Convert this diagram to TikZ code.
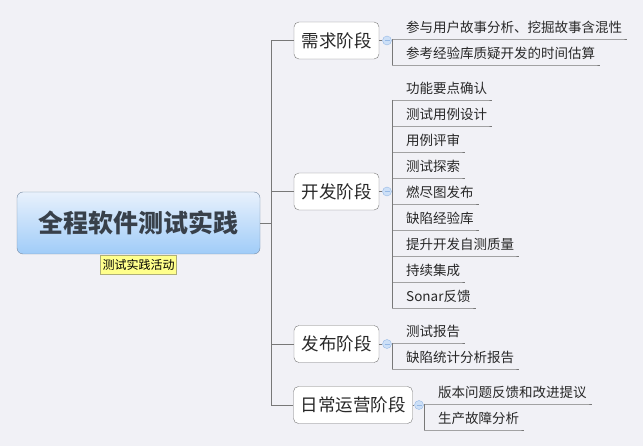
\documentclass[tikz,border=0pt]{standalone}
\usepackage{fontspec}
\setmainfont{Noto Sans CJK SC}
\usetikzlibrary{positioning}
\definecolor{bgcol}{RGB}{241,241,246}
\definecolor{linecol}{RGB}{120,120,120}
\definecolor{boxcol}{RGB}{120,120,120}
\definecolor{txtcol}{RGB}{40,40,40}
\definecolor{rootline}{RGB}{118,138,162}
\definecolor{roottop}{RGB}{232,241,252}
\definecolor{rootbot}{RGB}{160,204,248}
\definecolor{roottxt}{RGB}{56,64,74}
\definecolor{tagcol}{RGB}{255,255,140}
\definecolor{tagline}{RGB}{175,175,120}
\definecolor{foldcol}{RGB}{205,224,247}
\definecolor{foldline}{RGB}{150,185,230}

\begin{document}
\begin{tikzpicture}[x=1pt,y=-1pt,
  line/.style={draw=linecol, line width=0.8pt},
  root/.style={draw=rootline, rounded corners=6pt, top color=roottop, bottom color=rootbot,
    minimum width=243pt, minimum height=62pt, font=\fontsize{25}{28}\selectfont\bfseries, text=roottxt},
  tag/.style={draw=tagline, fill=tagcol, inner sep=2pt, minimum height=19pt, font=\fontsize{12}{13}\selectfont},
  topic/.style={draw=boxcol, fill=white, rounded corners=5pt, minimum height=37pt, minimum width=85pt,
    inner xsep=7pt, font=\fontsize{17.5}{20}\selectfont, text=txtcol},
  leaf/.style={inner sep=0pt, anchor=base west, font=\fontsize{13.5}{15}\selectfont, text=txtcol},
  fold/.style={circle, draw=foldline, fill=foldcol, minimum size=9pt, inner sep=0pt,
    path picture={\draw[foldline] ([xshift=2pt]path picture bounding box.west) -- ([xshift=-2pt]path picture bounding box.east);}}]
  \path[use as bounding box, fill=bgcol] (0,0) rectangle (643,446);

  % root
  \node[root] (root) at (138.5,223) {全程软件测试实践};
  \node[tag, below=1pt of root] (tag) {测试实践活动};

  % phases
  \node[topic] (xq) at (336.5,40.5) {需求阶段};
  \node[topic] (kf) at (336.5,191.5) {开发阶段};
  \node[topic] (fb) at (336.5,344) {发布阶段};
  \node[topic, minimum width=118pt] (yy) at (353,405) {日常运营阶段};

  \coordinate (hub) at (271,223);
  \draw[line] (root.east) -- (hub);
  \draw[line] (hub |- xq.west) -- (hub |- yy.west);
  \foreach \p in {xq,kf,fb,yy}
    \draw[line] (hub |- \p.west) -- (\p.west);

  % folds
  \foreach \p in {xq,kf,fb}{
    \node[fold] (\p f) at (387,0 |- \p.east) {};
    \draw[line] (\p.east) -- (\p f.west);
    \draw[line] (\p f.east) -- (392,0 |- \p.east);
  }
  \node[fold] (yyf) at (419,0 |- yy.east) {};
  \draw[line] (yy.east) -- (yyf.west);
  \draw[line] (yyf.east) -- (424,0 |- yy.east);

  % leaves
  \foreach \t [count=\i from 0] in {参与用户故事分析、挖掘故事含混性,参考经验库质疑开发的时间估算}{
    \pgfmathsetmacro\y{39+26*\i}
    \node[leaf] (xq\i) at (406,\y-6) {\t};
    \draw[line] (392,\y) -- (xq\i.east |- 392,\y) -- ++(5,0);
  }
  \draw[line] (392,39) -- (392,65);

  \foreach \t [count=\i from 0] in {功能要点确认,测试用例设计,用例评审,测试探索,燃尽图发布,缺陷经验库,提升开发自测质量,持续集成,Sonar反馈}{
    \pgfmathsetmacro\y{100+26*\i}
    \node[leaf] (kf\i) at (406,\y-6) {\t};
    \draw[line] (392,\y) -- (kf\i.east |- 392,\y) -- ++(5,0);
  }
  \draw[line] (392,100) -- (392,308);

  \foreach \t [count=\i from 0] in {测试报告,缺陷统计分析报告}{
    \pgfmathsetmacro\y{343+26*\i}
    \node[leaf] (fb\i) at (406,\y-6) {\t};
    \draw[line] (392,\y) -- (fb\i.east |- 392,\y) -- ++(5,0);
  }
  \draw[line] (392,343) -- (392,369);

  \foreach \t [count=\i from 0] in {版本问题反馈和改进提议,生产故障分析}{
    \pgfmathsetmacro\y{404+26*\i}
    \node[leaf] (yy\i) at (438,\y-6) {\t};
    \draw[line] (424,\y) -- (yy\i.east |- 424,\y) -- ++(5,0);
  }
  \draw[line] (424,404) -- (424,430);
\end{tikzpicture}
\end{document}
